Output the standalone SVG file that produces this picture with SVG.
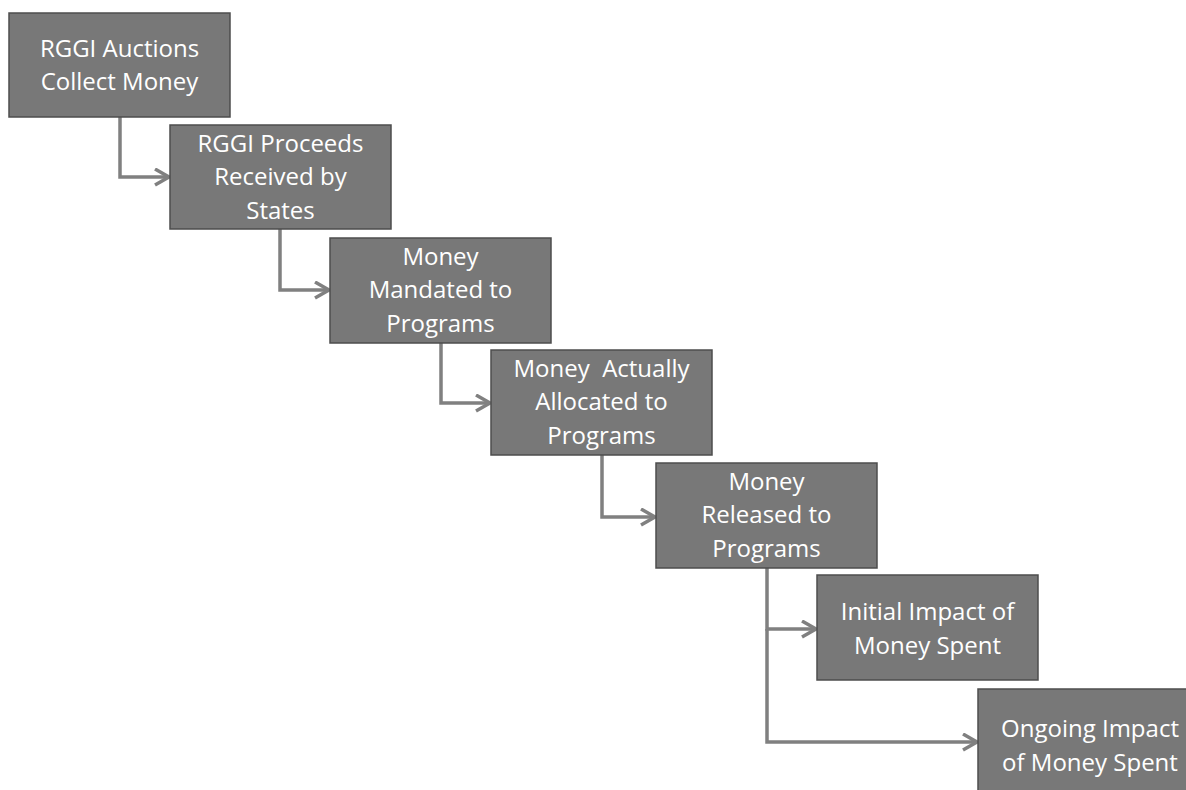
<svg xmlns="http://www.w3.org/2000/svg" width="1186" height="790" viewBox="0 0 1186 790">
<style>
.box{fill:#787878;stroke:#4d4d4d;stroke-width:1.5}
.t{fill:#ffffff;font-family:"Open Sans","Liberation Sans",sans-serif;font-size:24px;text-anchor:middle;white-space:pre}
.c{fill:none;stroke:#808080;stroke-width:3.5;marker-end:url(#ah)}
</style>
<defs>
<marker id="ah" markerUnits="userSpaceOnUse" markerWidth="20" markerHeight="22" refX="15" refY="9" orient="auto" viewBox="0 0 20 22">
<path d="M1,1 L15,9 L1,17" fill="none" stroke="#808080" stroke-width="3.5"/>
</marker>
</defs>
<rect width="1186" height="790" fill="#ffffff"/>
<g id="connectors">
<path class="c" d="M120,117 V177 H169"/>
<path class="c" d="M280,229 V290 H329"/>
<path class="c" d="M441,343 V403 H490"/>
<path class="c" d="M602,455 V517 H655"/>
<path class="c" d="M767,568 V629 H816"/>
<path class="c" d="M767,629 V742 H977"/>
</g>
<g id="n1"><rect class="box" x="9" y="13" width="221" height="104"/>
<text class="t" x="119.5" y="57">RGGI Auctions</text><text class="t" x="119.5" y="90">Collect Money</text></g>
<g id="n2"><rect class="box" x="170" y="125" width="221" height="104"/>
<text class="t" x="280.5" y="152">RGGI Proceeds</text><text class="t" x="280.5" y="185">Received by</text><text class="t" x="280.5" y="219">States</text></g>
<g id="n3"><rect class="box" x="330" y="238" width="221" height="105"/>
<text class="t" x="440.5" y="265">Money</text><text class="t" x="440.5" y="298">Mandated to</text><text class="t" x="440.5" y="332">Programs</text></g>
<g id="n4"><rect class="box" x="491" y="350" width="221" height="105"/>
<text class="t" x="601.5" y="377" xml:space="preserve">Money  Actually</text><text class="t" x="601.5" y="410">Allocated to</text><text class="t" x="601.5" y="444">Programs</text></g>
<g id="n5"><rect class="box" x="656" y="463" width="221" height="105"/>
<text class="t" x="766.5" y="490">Money</text><text class="t" x="766.5" y="523">Released to</text><text class="t" x="766.5" y="557">Programs</text></g>
<g id="n6"><rect class="box" x="817" y="575" width="221" height="105"/>
<text class="t" x="927.5" y="620">Initial Impact of</text><text class="t" x="927.5" y="654">Money Spent</text></g>
<g id="n7"><rect class="box" x="978" y="689" width="221" height="105"/>
<text class="t" x="1090" y="737">Ongoing Impact</text><text class="t" x="1090" y="771">of Money Spent</text></g>
</svg>
